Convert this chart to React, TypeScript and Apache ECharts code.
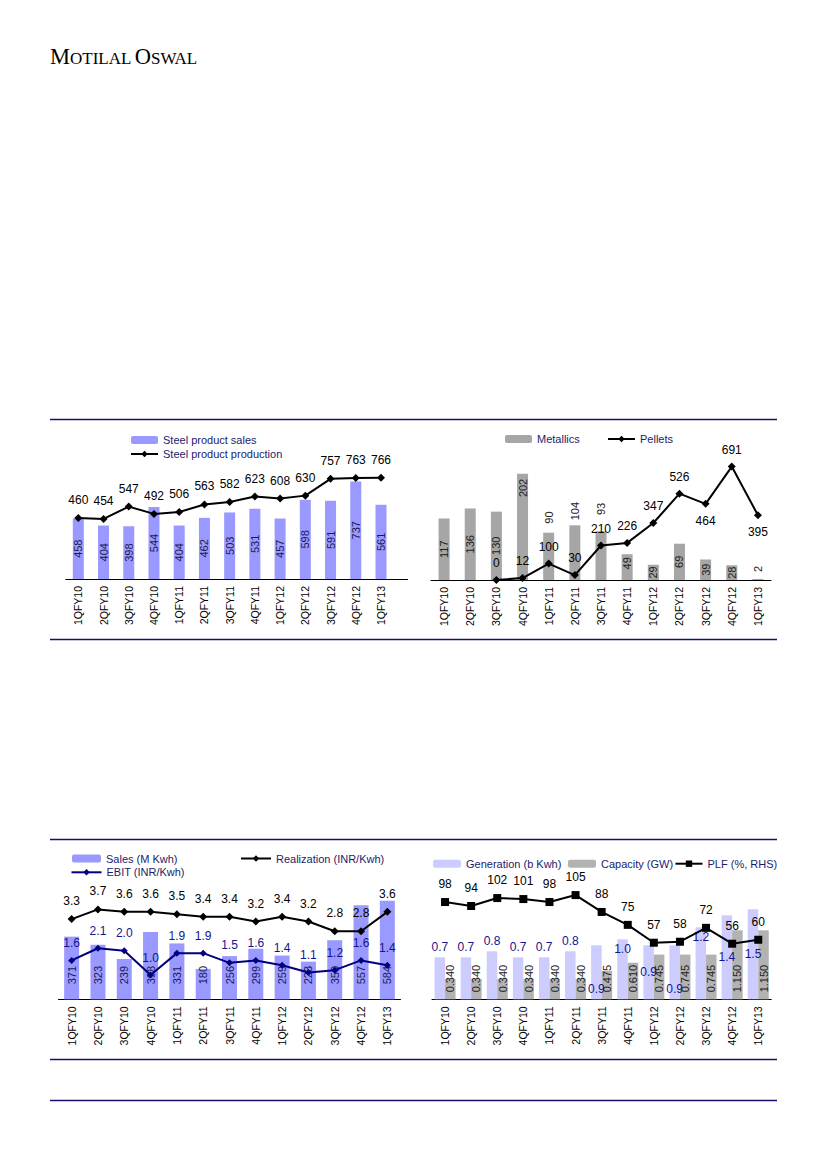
import React, { useEffect, useRef } from 'react';
import * as echarts from 'echarts';

const categories = ['1QFY10', '2QFY10', '3QFY10', '4QFY10', '1QFY11', '2QFY11', '3QFY11', '4QFY11', '1QFY12', '2QFY12', '3QFY12', '4QFY12', '1QFY13'];
const steelSales = [458, 404, 398, 544, 404, 462, 503, 531, 457, 598, 591, 737, 561];
const steelProduction = [460, 454, 547, 492, 506, 563, 582, 623, 608, 630, 757, 763, 766];
const metallics = [117, 136, 130, 202, 90, 104, 93, 49, 29, 69, 39, 28, 2];
const pellets = [null, null, 0, 12, 100, 30, 210, 226, 347, 526, 464, 691, 395];
const powerSales = [371, 323, 239, 398, 331, 180, 256, 299, 259, 223, 350, 557, 584];
const realization = [3.3, 3.7, 3.6, 3.6, 3.5, 3.4, 3.4, 3.2, 3.4, 3.2, 2.8, 2.8, 3.6];
const ebit = [1.6, 2.1, 2.0, 1.0, 1.9, 1.9, 1.5, 1.6, 1.4, 1.1, 1.2, 1.6, 1.4];
const generation = [0.7, 0.7, 0.8, 0.7, 0.7, 0.8, 0.9, 1.0, 0.9, 0.9, 1.2, 1.4, 1.5];
const capacity = [0.34, 0.34, 0.34, 0.34, 0.34, 0.34, 0.475, 0.61, 0.745, 0.745, 0.745, 1.15, 1.15];
const plf = [98, 94, 102, 101, 98, 105, 88, 75, 57, 58, 72, 56, 60];

// label placement (style, kept apart from the data)
const metallicsLabelPos = ['inside', 'inside', 'inside', 'insideTop', 'top', 'top', 'top', 'insideTop', 'inside', 'inside', 'inside', 'inside', 'top'];
const metallicsLabelDist = [5, 5, 5, 5, 9, 5, 16, 3, 5, 5, 5, 5, 7];
const pelletsLabelPos = ['top', 'top', 'top', 'top', 'top', 'top', 'top', 'top', 'top', 'top', 'bottom', 'top', 'bottom'];
const generationLabelPos = ['top', 'top', 'top', 'top', 'top', 'top', 'insideBottom', 'insideTop', 'inside', 'insideBottom', 'insideTop', 'inside', 'inside'];

const FONT = 'Liberation Sans';
const LEGEND_TEXT = '#1c1c6a';

const rotLabel = (pos: string, dist = 5, extra: any = {}) => {
  const base: any = { show: true, position: pos, rotate: 90, distance: dist, verticalAlign: 'middle', ...extra };
  if (pos === 'inside') base.align = 'center';
  else if (pos === 'insideTop') base.align = 'right';
  else base.align = 'left';
  return base;
};

const xAxisFor = (gridIndex: number) => ({
  type: 'category',
  gridIndex,
  data: categories,
  boundaryGap: true,
  axisTick: { show: false },
  axisLine: { show: true, lineStyle: { color: '#000', width: 1 } },
  axisLabel: { rotate: 90, fontSize: 10.5, color: '#000', margin: 7, fontFamily: FONT, interval: 0 },
  splitLine: { show: false },
});

const yAxisFor = (gridIndex: number, max: number) => ({
  type: 'value',
  gridIndex,
  min: 0,
  max,
  show: false,
  splitLine: { show: false },
});

const legendBase = (left: number, top: number, names: string[], itemWidth: number, extra: any = {}) => ({
  left,
  top,
  padding: 0,
  data: names,
  itemWidth,
  itemHeight: 8,
  itemGap: 0,
  textStyle: { fontSize: 11, color: LEGEND_TEXT, fontFamily: FONT, lineHeight: 14 },
  ...extra,
});

const option: any = {
  animation: false,
  textStyle: { fontFamily: FONT },
  grid: [
    { left: 65.7, top: 446, width: 327.9, height: 133, outerBoundsMode: 'none' },
    { left: 431, top: 438, width: 340, height: 142, outerBoundsMode: 'none' },
    { left: 58.5, top: 869.3, width: 342, height: 130, outerBoundsMode: 'none' },
    { left: 432, top: 867.3, width: 339.3, height: 132, outerBoundsMode: 'none' },
  ],
  xAxis: [xAxisFor(0), xAxisFor(1), xAxisFor(2), xAxisFor(3)],
  yAxis: [
    yAxisFor(0, 1005),
    yAxisFor(1, 270),
    yAxisFor(1, 865),
    yAxisFor(2, 770),
    yAxisFor(2, 5.35),
    yAxisFor(3, 2.2),
    yAxisFor(3, 133),
  ],
  legend: [
    legendBase(130, 433, ['Steel product sales', 'Steel product production'], 27, { orient: 'vertical' }),
    legendBase(505, 432, ['Metallics'], 27),
    legendBase(607, 432, ['Pellets'], 27),
    legendBase(72, 851.5, ['Sales (M Kwh)'], 29),
    legendBase(240, 851.5, ['Realization (INR/Kwh)'], 30),
    legendBase(70.5, 865.3, ['EBIT (INR/Kwh)'], 30),
    legendBase(433, 856.7, ['Generation (b Kwh)'], 28),
    legendBase(568, 856.7, ['Capacity (GW)'], 28),
    legendBase(674.5, 856.7, ['PLF (%, RHS)'], 27),
  ],
  series: [
    // Chart 1
    {
      name: 'Steel product sales',
      type: 'bar',
      xAxisIndex: 0,
      yAxisIndex: 0,
      data: steelSales,
      barWidth: 11,
      itemStyle: { color: '#9999ff' },
      legendIcon: 'rect',
      label: rotLabel('inside', 5, { fontSize: 11, color: '#1a1a55' }),
    },
    {
      name: 'Steel product production',
      type: 'line',
      xAxisIndex: 0,
      yAxisIndex: 0,
      data: steelProduction,
      symbol: 'diamond',
      symbolSize: 8,
      itemStyle: { color: '#000' },
      lineStyle: { color: '#000', width: 2 },
      label: { show: true, position: 'top', distance: 8, fontSize: 12, color: '#000' },
      z: 5,
    },
    // Chart 2
    {
      name: 'Metallics',
      type: 'bar',
      xAxisIndex: 1,
      yAxisIndex: 1,
      data: metallics.map((v, i) => ({ value: v, label: rotLabel(metallicsLabelPos[i], metallicsLabelDist[i]) })),
      barWidth: 11,
      itemStyle: { color: '#a6a6a6' },
      legendIcon: 'rect',
      label: { show: true, fontSize: 11, color: '#222' },
    },
    {
      name: 'Pellets',
      type: 'line',
      xAxisIndex: 1,
      yAxisIndex: 2,
      data: pellets.map((v, i) => ({ value: v, label: { position: pelletsLabelPos[i] } })),
      connectNulls: false,
      symbol: 'diamond',
      symbolSize: 8,
      itemStyle: { color: '#000' },
      lineStyle: { color: '#000', width: 2 },
      label: { show: true, position: 'top', distance: 7, fontSize: 12, color: '#000' },
      z: 5,
    },
    // Chart 3
    {
      name: 'Sales (M Kwh)',
      type: 'bar',
      xAxisIndex: 2,
      yAxisIndex: 3,
      data: powerSales,
      barWidth: 15,
      itemStyle: { color: '#9999ff' },
      legendIcon: 'rect',
      label: rotLabel('insideBottom', 15, { fontSize: 11, color: '#1a1a55' }),
    },
    {
      name: 'Realization (INR/Kwh)',
      type: 'line',
      xAxisIndex: 2,
      yAxisIndex: 4,
      data: realization,
      symbol: 'diamond',
      symbolSize: 8,
      itemStyle: { color: '#000' },
      lineStyle: { color: '#000', width: 2 },
      label: { show: true, position: 'top', distance: 8, fontSize: 12, color: '#000', formatter: (p: any) => Number(p.value).toFixed(1) },
      z: 5,
    },
    {
      name: 'EBIT (INR/Kwh)',
      type: 'line',
      xAxisIndex: 2,
      yAxisIndex: 4,
      data: ebit,
      symbol: 'diamond',
      symbolSize: 7,
      itemStyle: { color: '#000080' },
      lineStyle: { color: '#000080', width: 2 },
      label: { show: true, position: 'top', distance: 8, fontSize: 12, color: '#14148c', formatter: (p: any) => Number(p.value).toFixed(1) },
      z: 5,
    },
    // Chart 4
    {
      name: 'Generation (b Kwh)',
      type: 'bar',
      xAxisIndex: 3,
      yAxisIndex: 5,
      data: generation.map((v, i) => ({ value: v, label: { position: generationLabelPos[i] } })),
      barWidth: 10.5,
      barGap: '0%',
      itemStyle: { color: '#ccccff' },
      legendIcon: 'rect',
      label: { show: true, position: 'top', distance: 4, fontSize: 12, color: '#14148c', formatter: (p: any) => Number(p.value).toFixed(1) },
    },
    {
      name: 'Capacity (GW)',
      type: 'bar',
      xAxisIndex: 3,
      yAxisIndex: 5,
      data: capacity,
      barWidth: 10.5,
      barGap: '0%',
      itemStyle: { color: '#b2b2b2' },
      legendIcon: 'rect',
      label: rotLabel('insideBottom', 7, { fontSize: 11, color: '#222', formatter: (p: any) => Number(p.value).toFixed(3) }),
    },
    {
      name: 'PLF (%, RHS)',
      type: 'line',
      xAxisIndex: 3,
      yAxisIndex: 6,
      data: plf,
      symbol: 'rect',
      symbolSize: 8,
      itemStyle: { color: '#000' },
      lineStyle: { color: '#000', width: 2 },
      label: { show: true, position: 'top', distance: 8, fontSize: 12, color: '#000' },
      z: 5,
    },
  ],
  graphic: [
    {
      type: 'text',
      left: 50,
      top: 45,
      silent: true,
      style: {
        text: '{a|M}{b|OTILAL} {a|O}{b|SWAL}',
        rich: {
          a: { fontFamily: 'Liberation Serif', fontSize: 22.5, color: '#1a1a1a', verticalAlign: 'bottom' },
          b: { fontFamily: 'Liberation Serif', fontSize: 17, color: '#1a1a1a', verticalAlign: 'bottom', padding: [0, 0, 1.3, 0] },
        },
      },
    },
    ...[419.5, 639.5, 839.5, 1059.5, 1100.5].map((y) => ({
      type: 'line',
      silent: true,
      shape: { x1: 50, y1: y, x2: 777, y2: y },
      style: { stroke: '#1b0f6b', lineWidth: 1.3 },
    })),
    {
      type: 'line',
      silent: true,
      shape: { x1: 393, y1: 579.5, x2: 408, y2: 579.5 },
      style: { stroke: '#000', lineWidth: 1 },
    },
  ],
};

export default function App() {
  const ref = useRef<HTMLDivElement>(null);
  useEffect(() => {
    const chart = echarts.init(ref.current as HTMLDivElement, null, { renderer: 'svg' });
    chart.setOption(option);
    return () => chart.dispose();
  }, []);
  return (
    <div
      ref={ref}
      style={{ position: 'absolute', left: 0, top: 0, width: 826, height: 1169, background: '#fff' }}
    />
  );
}
